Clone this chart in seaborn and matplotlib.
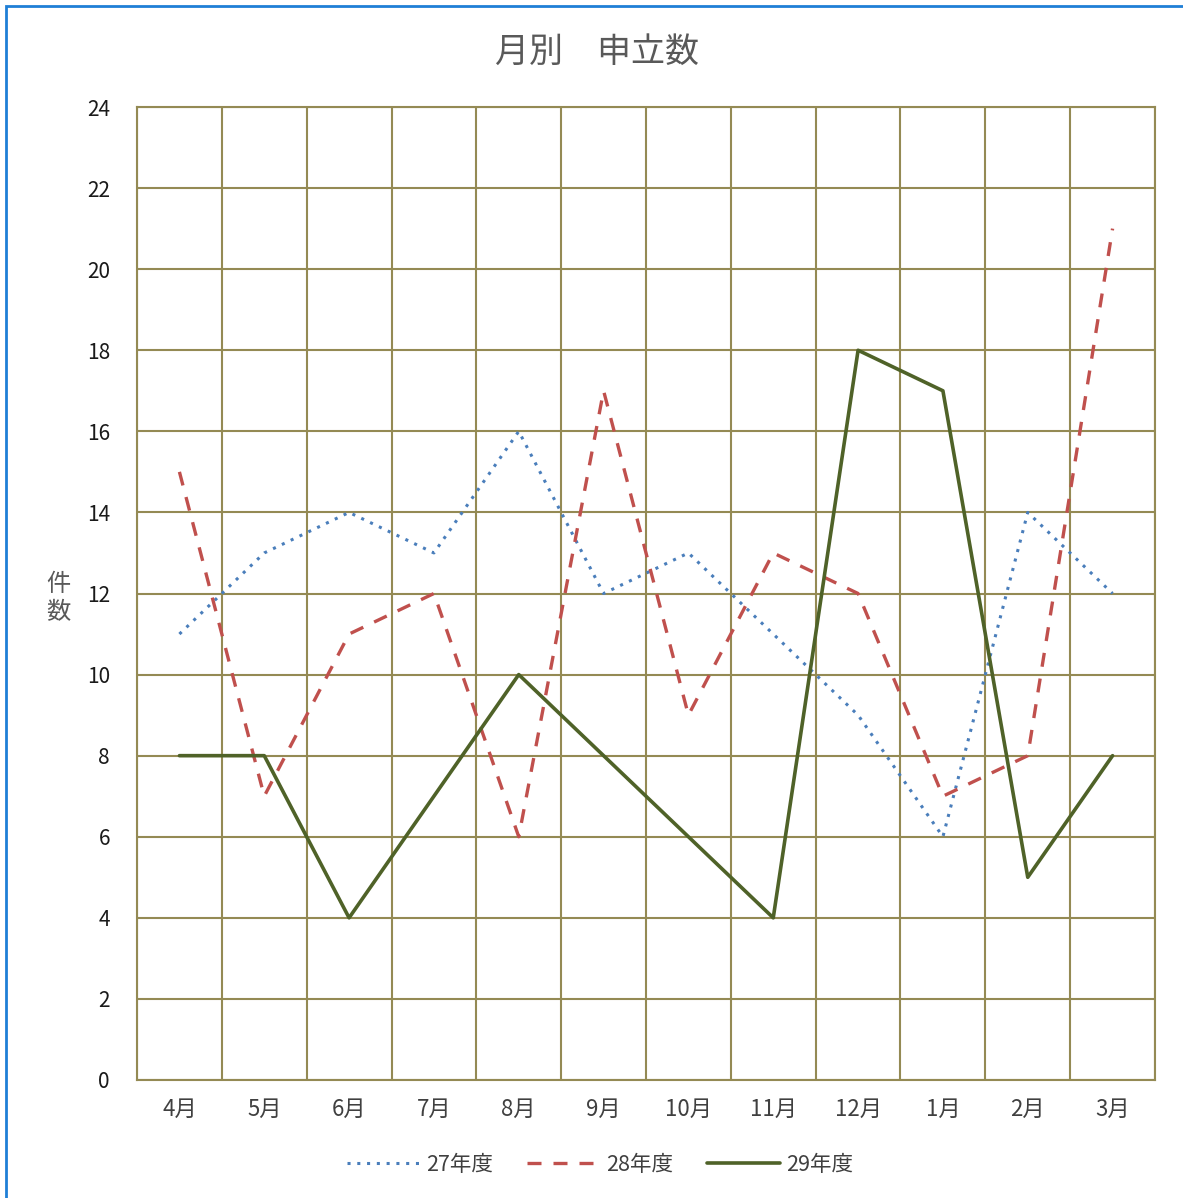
import matplotlib
matplotlib.use("Agg")
import matplotlib.pyplot as plt
import seaborn as sns
import pandas as pd
import numpy as np
from matplotlib.patches import Rectangle
from matplotlib.lines import Line2D

months = ["4月", "5月", "6月", "7月", "8月", "9月", "10月", "11月", "12月", "1月", "2月", "3月"]
fy27 = [11, 13, 14, 13, 16, 12, 13, 11, 9, 6, 14, 12]
fy28 = [15, 7, 11, 12, 6, 17, 9, 13, 12, 7, 8, 21]
fy29 = [8, 8, 4, 7, 10, 8, 6, 4, 18, 17, 5, 8]
series_names = ["27年度", "28年度", "29年度"]

sns.set_theme(style="white")
plt.rcParams["font.family"] = ["Noto Sans CJK JP", "DejaVu Sans"]

grid_color = "#948A54"
colors = {"27年度": "#4A7EBB", "28年度": "#C0504D", "29年度": "#4F6228"}

df = pd.DataFrame({
    "月": months * 3,
    "件数": fy27 + fy28 + fy29,
    "年度": [series_names[0]] * 12 + [series_names[1]] * 12 + [series_names[2]] * 12,
})
df["pos"] = list(range(12)) * 3

fig = plt.figure(figsize=(11.83, 11.98), dpi=100)
ax = fig.add_axes([137 / 1183, 1 - 1080 / 1198, (1155 - 137) / 1183, (1080 - 107) / 1198])

styles = {
    "27年度": dict(linestyle=(0, (1, 2.2)), linewidth=2.2),
    "28年度": dict(linestyle=(0, (4.2, 3.6)), linewidth=2.4),
    "29年度": dict(linestyle="-", linewidth=2.6),
}
for name in series_names:
    sub = df[df["年度"] == name]
    sns.lineplot(data=sub, x="pos", y="件数", ax=ax, color=colors[name],
                 legend=False, **styles[name])

ax.set_xlim(-0.5, 11.5)
ax.set_ylim(0, 24)
ax.set_yticks(np.arange(0, 25, 2))
ax.set_xticks(range(12))
ax.set_xticklabels(months, fontsize=16, color="#404040")
ax.set_xticks(np.arange(-0.5, 12, 1), minor=True)
ax.tick_params(axis="y", labelsize=15, labelcolor="#1a1a1a", length=0, pad=19.5)
ax.tick_params(axis="x", which="both", length=0, pad=13)
ax.set_yticklabels([str(v) for v in range(0, 25, 2)])
ax.grid(True, axis="y", which="major", color=grid_color, linewidth=1.5)
ax.grid(True, axis="x", which="minor", color=grid_color, linewidth=1.5)
ax.grid(False, axis="x", which="major")
for sp in ax.spines.values():
    sp.set_color(grid_color)
    sp.set_linewidth(1.5)
ax.set_xlabel("")
ax.set_ylabel("")

fig.text(58 / 1183, 1 - 598 / 1198, "件\n数", fontsize=17.5, color="#595959",
         ha="center", va="center", linespacing=1.1)
fig.text(597 / 1183, 1 - 52 / 1198, "月別　申立数", fontsize=24.5, color="#595959",
         ha="center", va="center")

handles = [Line2D([0], [0], color=colors[n], **styles[n]) for n in series_names]
fig.legend(handles, series_names, loc="center", bbox_to_anchor=(600 / 1183, 1 - 1165 / 1198),
           ncol=3, frameon=False, fontsize=15.5, handlelength=3.4, handletextpad=0.25,
           columnspacing=1.6, labelcolor="#404040")

fig.patches.append(Rectangle((6 / 1183, -0.05), 1.2, 1 - 6 / 1198 + 0.05,
                             transform=fig.transFigure, fill=False,
                             edgecolor="#1F7FD6", linewidth=2))

fig.savefig("out.png", dpi=100)
